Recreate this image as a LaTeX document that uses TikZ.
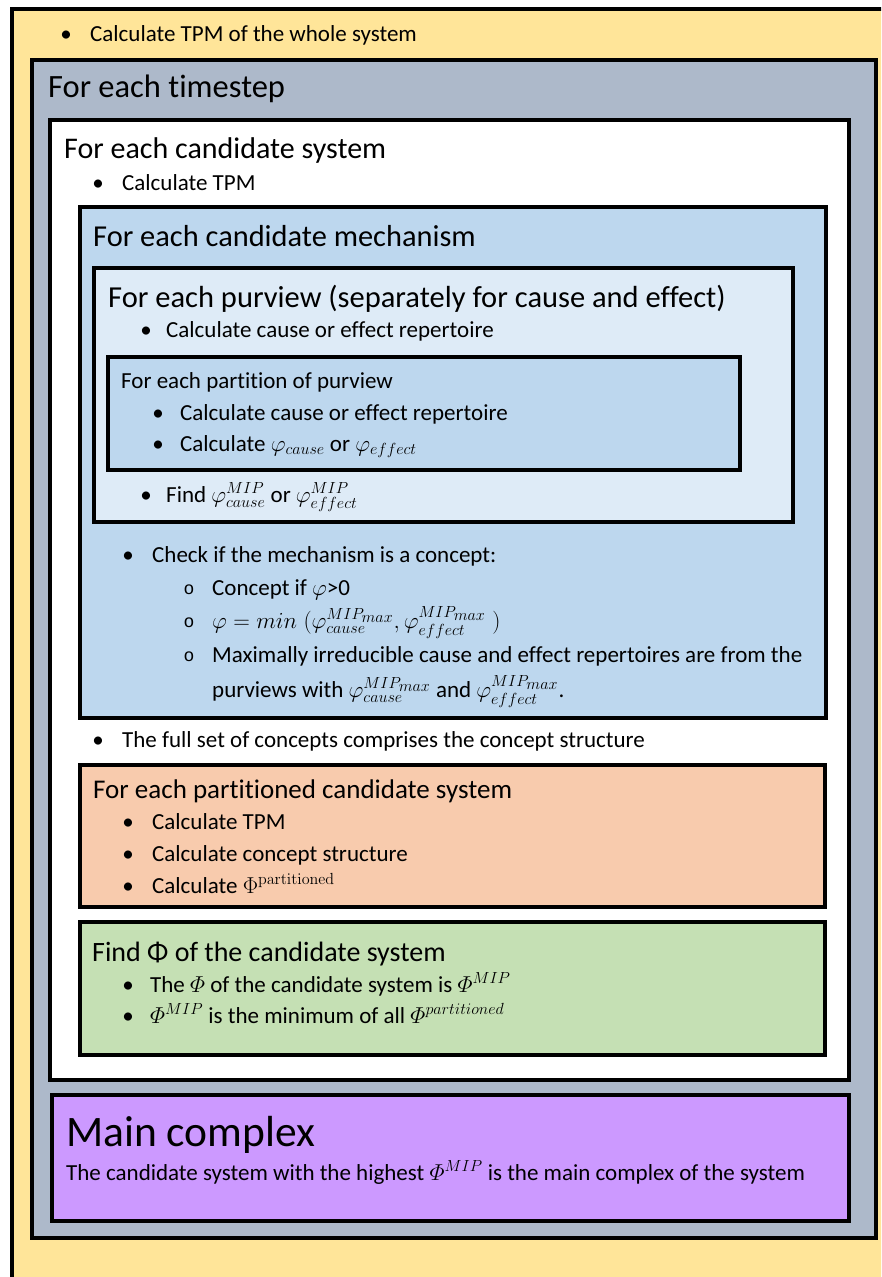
\RequirePackage{fix-cm}
\documentclass[tikz,border=0pt]{standalone}
\usepackage{amsmath}
\usepackage[no-math]{fontspec}
\setmainfont{Carlito}[Ligatures=NoCommon]
\newfontfamily\monof{Liberation Mono}
\definecolor{cYellow}{HTML}{FFE599}
\definecolor{cGray}{HTML}{ADB9CA}
\definecolor{cMech}{HTML}{BDD7EE}
\definecolor{cPurv}{HTML}{DEEBF7}
\definecolor{cOrange}{HTML}{F8CBAD}
\definecolor{cGreen}{HTML}{C5E0B4}
\definecolor{cPurple}{HTML}{CC99FF}
\newcommand{\mipmax}{MIP_{\scriptstyle max}}
\tikzset{
  box/.style={draw=black, line width=3.8pt, anchor=north west, inner sep=0pt, outer sep=0pt},
  txt/.style={anchor=base west, inner sep=0pt, font=\fontsize{23}{27}\selectfont},
  bul/.style={anchor=base, inner sep=0pt, font=\fontsize{23}{27}\selectfont},
  sub/.style={anchor=base, inner sep=0pt, font=\monof\fontsize{18}{22}\selectfont},
  head/.style={anchor=base west, inner sep=0pt, font=\fontsize{#1}{#1}\selectfont},
}
\begin{document}
\begin{tikzpicture}[x=1pt,y=-1pt]
\useasboundingbox (0,0) rectangle (881,1277);
\clip (0,0) rectangle (881,1277);
% boxes
\node[box, fill=cYellow, minimum width=900pt, minimum height=1300pt] (outer) at (12,9) {};
\node[box, fill=cGray, minimum width=844pt, minimum height=1178pt] (timestep) at (32,60) {};
\node[box, fill=white, minimum width=799pt, minimum height=960pt] (cand) at (50,120) {};
\node[box, fill=cMech, minimum width=746pt, minimum height=511pt] (mech) at (80,207) {};
\node[box, fill=cPurv, minimum width=699pt, minimum height=254pt] (purv) at (94,268) {};
\node[box, fill=cMech, minimum width=632pt, minimum height=113pt] (part) at (108,357) {};
\node[box, fill=cOrange, minimum width=745pt, minimum height=142pt] (pcs) at (80,765) {};
\node[box, fill=cGreen, minimum width=745pt, minimum height=133pt] (findphi) at (80,922) {};
\node[box, fill=cPurple, minimum width=797pt, minimum height=126pt] (mainc) at (52,1095) {};
% texts
\node[bul] (b1) at (66,41) {•};
\node[txt] (t1) at (90,41) {Calculate TPM of the whole system};
\node[head=32.5] (h1) at (48,97) {For each timestep};
\node[head=30] (h2) at (64,158) {For each candidate system};
\node[bul] (b2) at (98,190) {•};
\node[txt] (t2) at (122,190) {Calculate TPM};
\node[head=30.4] (h3) at (93,246) {For each candidate mechanism};
\node[head=30.5] (h4) at (108,307) {For each purview (separately for cause and effect)};
\node[bul] (b3) at (146,337) {•};
\node[txt] (t3) at (166,337) {Calculate cause or effect repertoire};
\node[head=23] (h5) at (121,388) {For each partition of purview};
\node[bul] (b4) at (158,420) {•};
\node[txt] (t4) at (180,420) {Calculate cause or effect repertoire};
\node[bul] (b5) at (158,451) {•};
\node[txt] (t5) at (180,451) {Calculate $\varphi_{cause}$ or $\varphi_{effect}$};
\node[bul] (b6) at (146,502) {•};
\node[txt] (t6) at (166,502) {Find $\varphi^{MIP}_{cause}$ or $\varphi^{MIP}_{effect}$};
\node[bul] (b7) at (128,562) {•};
\node[txt] (t7) at (152,562) {Check if the mechanism is a concept:};
\node[sub] (s1) at (189,594) {o};
\node[txt] (t8) at (212,595) {Concept if $\varphi$>0};
\node[sub] (s2) at (189,627) {o};
\node[txt] (t9) at (212,628) {$\varphi = min\;(\varphi^{\mipmax}_{cause},\varphi^{\mipmax}_{effect}\;)$};
\node[sub] (s3) at (189,661) {o};
\node[txt] (t10) at (212,662) {Maximally irreducible cause and effect repertoires are from the};
\node[txt] (t11) at (212,697) {purviews with $\varphi^{\mipmax}_{cause}$ and $\varphi^{\mipmax}_{effect}$.};
\node[bul] (b8) at (98,747) {•};
\node[txt] (t12) at (122,747) {The full set of concepts comprises the concept structure};
\node[head=27] (h6) at (93,798) {For each partitioned candidate system};
\node[bul] (b9) at (128,829) {•};
\node[txt] (t13) at (152,829) {Calculate TPM};
\node[bul] (b10) at (128,861) {•};
\node[txt] (t14) at (152,861) {Calculate concept structure};
\node[bul] (b11) at (128,893) {•};
\node[txt] (t15) at (152,893) {Calculate $\Phi^{\mathrm{partitioned}}$};
\node[head=28] (h7) at (92,961) {Find Φ of the candidate system};
\node[bul] (b12) at (128,992) {•};
\node[txt] (t16) at (150,992) {The $\varPhi$ of the candidate system is $\varPhi^{MIP}$};
\node[bul] (b13) at (128,1023) {•};
\node[txt] (t17) at (150,1023) {$\varPhi^{MIP}$ is the minimum of all $\varPhi^{partitioned}$};
\node[head=43.5] (h8) at (66,1146) {Main complex};
\node[txt] (t18) at (66,1180) {The candidate system with the highest $\varPhi^{MIP}$ is the main complex of the system};
\end{tikzpicture}
\end{document}
